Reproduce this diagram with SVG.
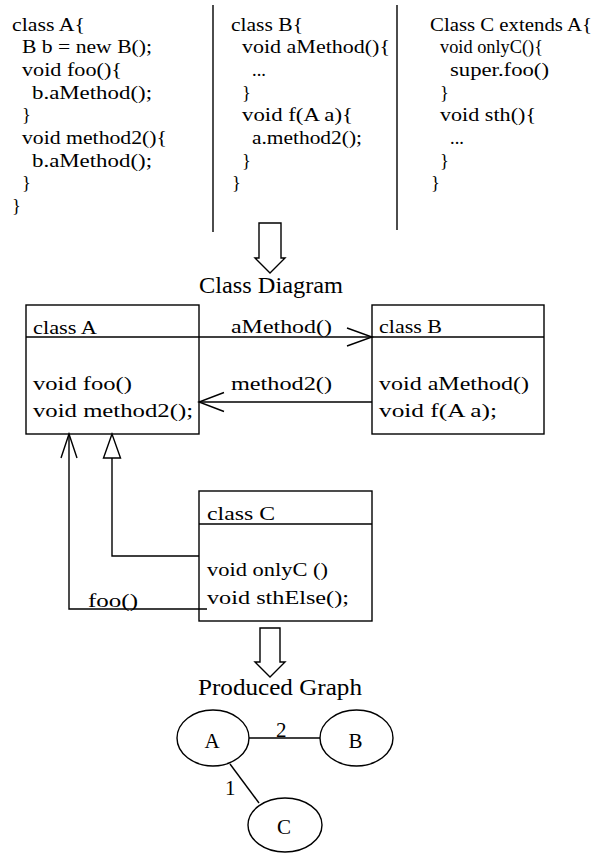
<svg xmlns="http://www.w3.org/2000/svg" width="604" height="854" viewBox="0 0 604 854">
<style>
text{font-family:"Liberation Serif","Times New Roman",serif;fill:#000;}
.c{font-size:18.5px;}
.t{font-size:24px;}
.g{font-size:21px;}
.s{fill:none;stroke:#000;stroke-width:1.4;}
.w{fill:#fff;stroke:#000;stroke-width:1.4;}
</style>
<rect width="604" height="854" fill="#fff"/>
<g id="code-a">
<text x="12" y="30.5" class="c" textLength="73" lengthAdjust="spacingAndGlyphs">class A{</text>
<text x="22" y="53.2" class="c" textLength="130" lengthAdjust="spacingAndGlyphs">B b = new B();</text>
<text x="22" y="75.9" class="c" textLength="100" lengthAdjust="spacingAndGlyphs">void foo(){</text>
<text x="32" y="98.6" class="c" textLength="120" lengthAdjust="spacingAndGlyphs">b.aMethod();</text>
<text x="22" y="121.3" class="c">}</text>
<text x="22" y="144" class="c" textLength="145" lengthAdjust="spacingAndGlyphs">void method2(){</text>
<text x="32" y="166.7" class="c" textLength="120" lengthAdjust="spacingAndGlyphs">b.aMethod();</text>
<text x="22" y="189.4" class="c">}</text>
<text x="12" y="212.1" class="c">}</text>
</g>
<g id="code-b">
<text x="231" y="30.5" class="c" textLength="72" lengthAdjust="spacingAndGlyphs">class B{</text>
<text x="242" y="53.2" class="c" textLength="148" lengthAdjust="spacingAndGlyphs">void aMethod(){</text>
<text x="252" y="75.9" class="c">...</text>
<text x="242" y="98.6" class="c">}</text>
<text x="242" y="121.3" class="c" textLength="111" lengthAdjust="spacingAndGlyphs">void f(A a){</text>
<text x="252" y="144" class="c" textLength="110" lengthAdjust="spacingAndGlyphs">a.method2();</text>
<text x="242" y="166.7" class="c">}</text>
<text x="232" y="189.4" class="c">}</text>
</g>
<g id="code-c">
<text x="430" y="30.5" class="c" textLength="162" lengthAdjust="spacingAndGlyphs">Class C extends A{</text>
<text x="440" y="53.2" class="c" textLength="103" lengthAdjust="spacingAndGlyphs">void onlyC(){</text>
<text x="450" y="75.9" class="c" textLength="99" lengthAdjust="spacingAndGlyphs">super.foo()</text>
<text x="440" y="98.6" class="c">}</text>
<text x="440" y="121.3" class="c" textLength="96" lengthAdjust="spacingAndGlyphs">void sth(){</text>
<text x="450" y="144" class="c">...</text>
<text x="440" y="166.7" class="c">}</text>
<text x="431" y="189.4" class="c">}</text>
</g>
<g id="dividers">
<line x1="213" y1="5" x2="213" y2="232" class="s" stroke-width="1.6"/>
<line x1="397" y1="5" x2="397" y2="230" class="s" stroke-width="1.6"/>
</g>
<g id="arrow-to-class-diagram">
<path d="M259,223 H281 V258 H285 L270,273 L255,258 H259 Z" class="w"/>
</g>
<g id="title-class-diagram">
<text x="199" y="293" class="t" textLength="144" lengthAdjust="spacingAndGlyphs">Class Diagram</text>
</g>
<g id="class-a">
<rect x="26" y="305" width="173" height="129" class="s"/>
<line x1="26" y1="337" x2="199" y2="337" class="s"/>
<text x="33" y="334" class="c" textLength="64" lengthAdjust="spacingAndGlyphs">class A</text>
<text x="33" y="390" class="c" textLength="99" lengthAdjust="spacingAndGlyphs">void foo()</text>
<text x="33" y="417" class="c" textLength="160" lengthAdjust="spacingAndGlyphs">void method2();</text>
</g>
<g id="class-b">
<rect x="372" y="305" width="172" height="129" class="s"/>
<line x1="372" y1="337" x2="544" y2="337" class="s"/>
<text x="379" y="333" class="c" textLength="63" lengthAdjust="spacingAndGlyphs">class B</text>
<text x="379" y="390" class="c" textLength="150" lengthAdjust="spacingAndGlyphs">void aMethod()</text>
<text x="379" y="417" class="c" textLength="118" lengthAdjust="spacingAndGlyphs">void f(A a);</text>
</g>
<g id="class-c">
<rect x="199" y="491" width="173" height="130" class="s"/>
<line x1="199" y1="524" x2="372" y2="524" class="s"/>
<text x="207" y="520" class="c" textLength="68" lengthAdjust="spacingAndGlyphs">class C</text>
<text x="207" y="576" class="c" textLength="121" lengthAdjust="spacingAndGlyphs">void onlyC ()</text>
<text x="207" y="604" class="c" textLength="142" lengthAdjust="spacingAndGlyphs">void sthElse();</text>
</g>
<g id="connectors">
<line x1="199" y1="337" x2="372" y2="337" class="s"/>
<polyline points="347,328 372,337 347,346" class="s"/>
<text x="231" y="333" class="c" textLength="101" lengthAdjust="spacingAndGlyphs">aMethod()</text>
<line x1="372" y1="402" x2="199" y2="402" class="s"/>
<polyline points="224,392.5 199,402 224,411.5" class="s"/>
<text x="231" y="390" class="c" textLength="101" lengthAdjust="spacingAndGlyphs">method2()</text>
<polyline points="199,556 112,556 112,458" class="s"/>
<polygon points="112,434 103.5,458 120.5,458" class="w"/>
<polyline points="207,609 69,609 69,434" class="s"/>
<polyline points="61,458 69,434 77,458" class="s"/>
<text x="88" y="607" class="c" textLength="50" lengthAdjust="spacingAndGlyphs">foo()</text>
<line x1="249" y1="738" x2="320" y2="738" class="s"/>
<text x="276" y="737" class="g">2</text>
<line x1="230" y1="764" x2="259" y2="803" class="s"/>
<text x="225" y="795" class="g">1</text>
</g>
<g id="arrow-to-graph">
<path d="M260,628 H280 V662 H285 L270,677 L255,662 H260 Z" class="w"/>
</g>
<g id="title-produced-graph">
<text x="198" y="695" class="t" textLength="164" lengthAdjust="spacingAndGlyphs">Produced Graph</text>
</g>
<g id="node-A">
<ellipse cx="213" cy="738" rx="36" ry="28" class="s"/>
<text x="212" y="748" class="g" text-anchor="middle">A</text>
</g>
<g id="node-B">
<ellipse cx="356.5" cy="738" rx="36.5" ry="28" class="s"/>
<text x="355.5" y="748" class="g" text-anchor="middle">B</text>
</g>
<g id="node-C">
<ellipse cx="285" cy="825" rx="37" ry="27" class="s"/>
<text x="284" y="834" class="g" text-anchor="middle">C</text>
</g>
</svg>
